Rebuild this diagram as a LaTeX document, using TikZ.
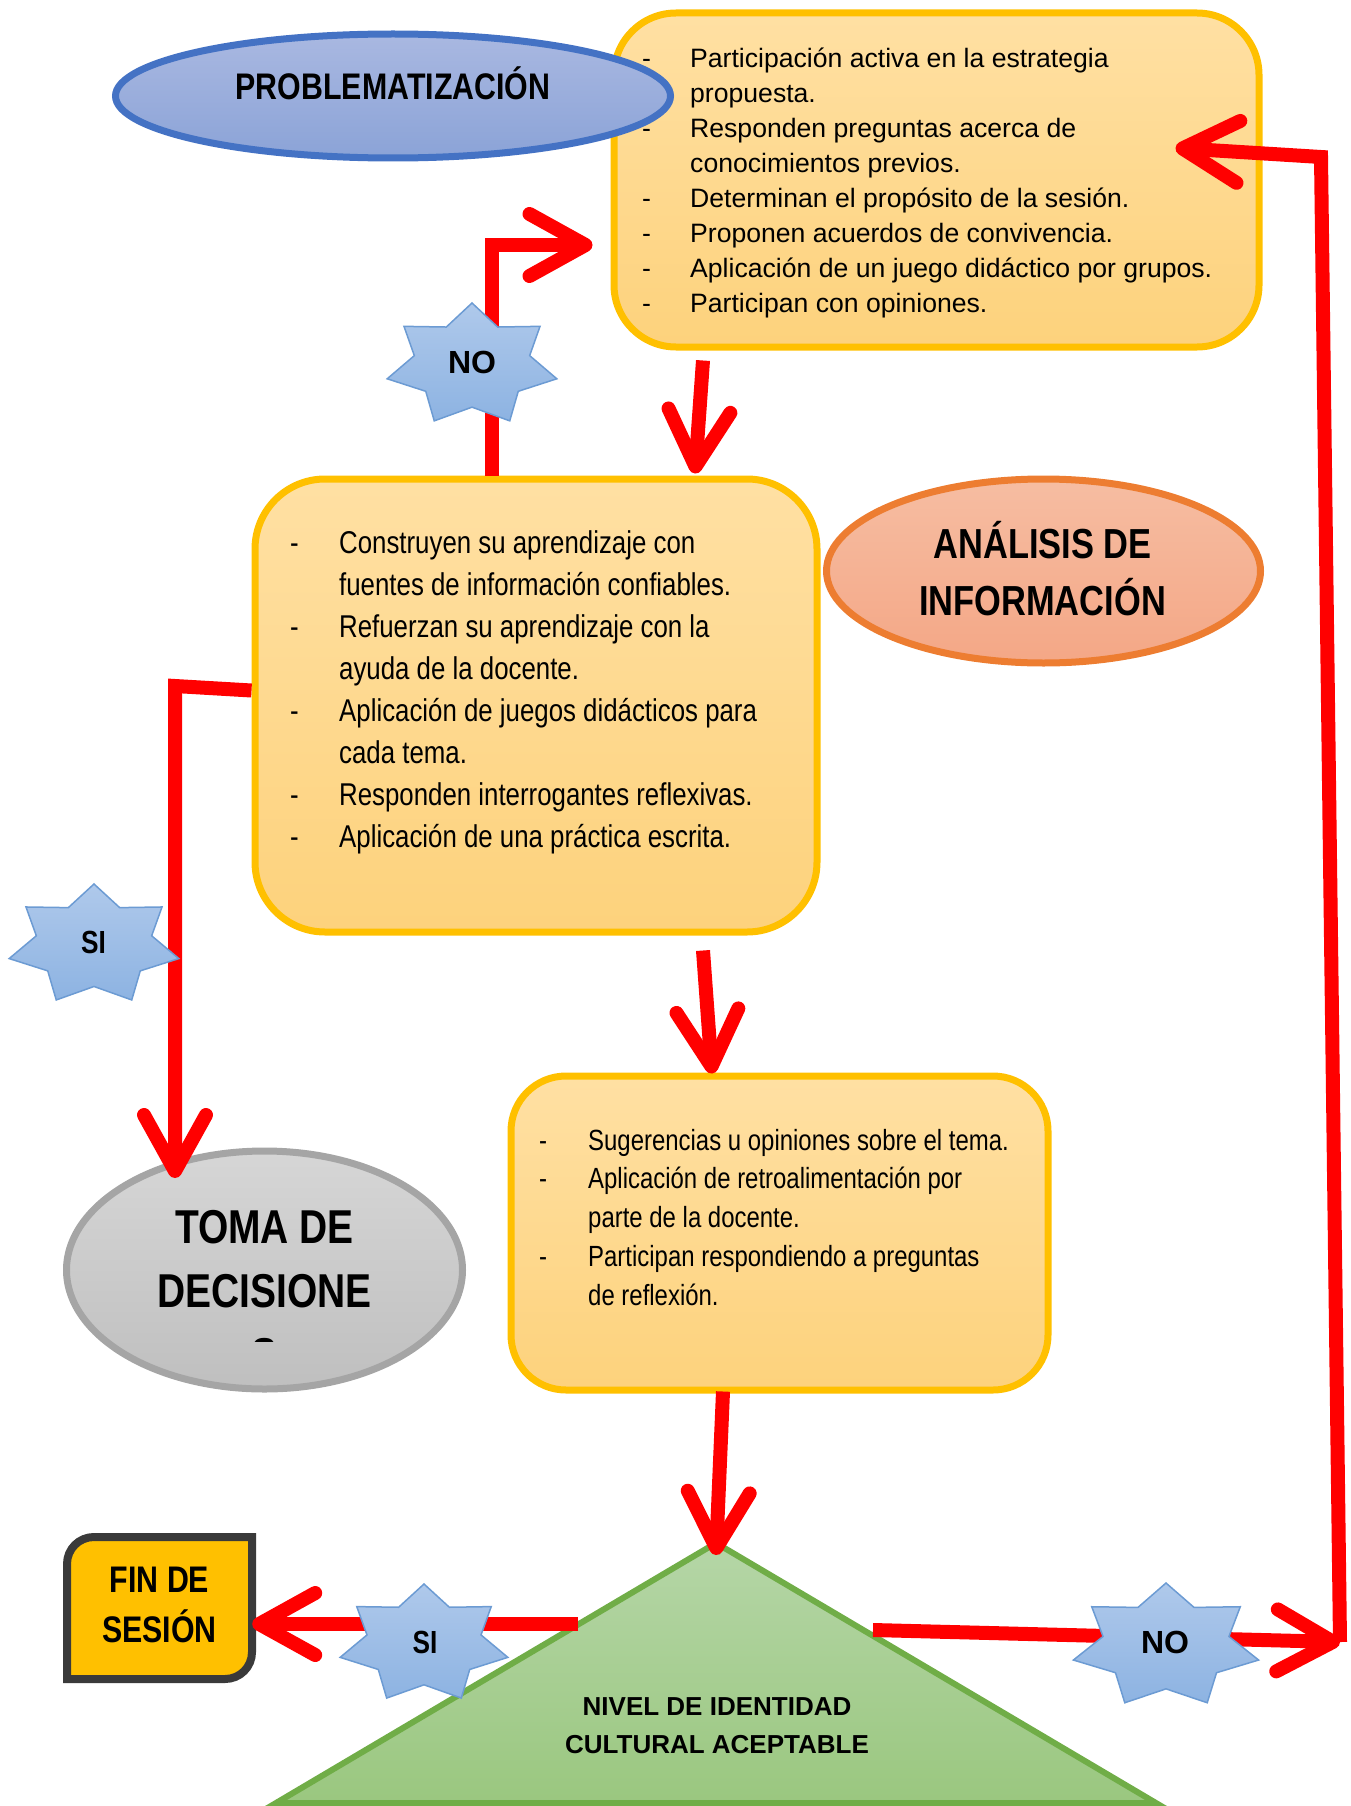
\documentclass[tikz,border=0pt]{standalone}
\usepackage{fontspec}
\setmainfont{Liberation Sans}
\newfontfamily\nar[FakeStretch=0.82]{Liberation Sans}
\usetikzlibrary{shapes.geometric,arrows.meta}
\definecolor{boxfillA}{HTML}{FFE0A3}
\definecolor{boxfillB}{HTML}{FDD27C}
\definecolor{boxline}{HTML}{FFC000}
\definecolor{probA}{HTML}{A9B8E1}
\definecolor{probB}{HTML}{8BA3D7}
\definecolor{probline}{HTML}{4472C4}
\definecolor{anaA}{HTML}{F6BDA2}
\definecolor{anaB}{HTML}{F4A786}
\definecolor{analine}{HTML}{ED7D31}
\definecolor{tomaA}{HTML}{D6D6D6}
\definecolor{tomaB}{HTML}{BFBFBF}
\definecolor{tomaline}{HTML}{A5A5A5}
\definecolor{triA}{HTML}{B5D6A7}
\definecolor{triB}{HTML}{9AC77F}
\definecolor{triline}{HTML}{70AD47}
\definecolor{starA}{HTML}{AFC9EB}
\definecolor{starB}{HTML}{8DB3E2}
\definecolor{starline}{HTML}{6C9BD3}
\definecolor{finfill}{HTML}{FFC000}
\definecolor{finline}{HTML}{3A3A3A}
\definecolor{arrowred}{HTML}{FF0000}
\newcommand\litem[2]{\hangindent=#1\hangafter=1\noindent\makebox[#1][l]{-}#2\par}
\newcommand\ctext[2]{\vtop{\hsize=#1\parindent=0pt\parskip=0pt\centering #2\par}}
\newcommand\ltext[2]{\vtop{\hsize=#1\parindent=0pt\parskip=0pt #2}}
\newcommand\sevenstar[4]{%
  \path[starshape] plot[variable=\k, samples at={0,...,13}]
   ({#1+#3*(1-0.32*mod(\k,2))*cos(90+\k*25.7143)},
    {#2-#4*(1-0.32*mod(\k,2))*sin(90+\k*25.7143)}) -- cycle;}
\begin{document}
\begin{tikzpicture}[x=1pt,y=-1pt,
  ybox/.style={rectangle, draw=boxline, line width=7pt, top color=boxfillA, bottom color=boxfillB, inner sep=0pt},
  oval/.style={ellipse, line width=7pt, inner sep=0pt},
  arr/.style={draw=arrowred, line width=14pt, line join=miter, -{Straight Barb[length=56pt,width=62pt,round]}},
  starshape/.style={draw=starline, line width=1.5pt, top color=starA, bottom color=starB},
  lbl/.style={anchor=base, inner sep=0pt, font=\bfseries\fontsize{32}{36}\selectfont},
  lbln/.style={anchor=base, inner sep=0pt, font=\nar\bfseries\fontsize{32}{36}\selectfont},
  txt/.style={anchor=base, inner sep=0pt},
  ltxt/.style={anchor=base west, inner sep=0pt}]
\useasboundingbox (0,0) rectangle (1350,1806);

% boxes
\node[ybox, rounded corners=62pt, minimum width=645pt, minimum height=334pt] (top) at (936.5,180) {};
\node[ybox, rounded corners=70pt, minimum width=562pt, minimum height=453pt] (mid) at (536,705.5) {};
\node[ybox, rounded corners=55pt, minimum width=537pt, minimum height=314pt] (low) at (779.5,1233) {};

% ovals
\node[oval, draw=probline, top color=probA, bottom color=probB, minimum width=555pt, minimum height=124pt] (prob) at (393,96) {};
\node[oval, draw=analine, top color=anaA, bottom color=anaB, minimum width=434pt, minimum height=184pt] (anal) at (1043.5,571) {};
\node[oval, draw=tomaline, top color=tomaA, bottom color=tomaB, minimum width=396pt, minimum height=238pt] (toma) at (264.5,1270) {};

% triangle
\coordinate (apex) at (716,1543);
\coordinate (baseL) at (276,1803);
\coordinate (baseR) at (1156,1803);
\path[draw=triline, line width=6pt, top color=triA, bottom color=triB] (apex) -- (baseR) -- (baseL) -- cycle;

% fin de sesion box
\node[minimum width=185pt, minimum height=142pt, inner sep=0pt] (fin) at (159.5,1608) {};
\path[draw=finline, line width=8pt, fill=finfill] (67,1679) -- (67,1564) .. controls (67,1549) and (79,1537) .. (94,1537) -- (252,1537) -- (252,1652) .. controls (252,1667) and (240,1679) .. (225,1679) -- cycle;

% texts
\node[ltxt, font=\fontsize{26.6}{35}\selectfont] (toptxt) at (642,68) {\ltext{640pt}{%
\litem{48pt}{Participación activa en la estrategia\newline propuesta.}%
\litem{48pt}{Responden preguntas acerca de\newline conocimientos previos.}%
\litem{48pt}{Determinan el propósito de la sesión.}%
\litem{48pt}{Proponen acuerdos de convivencia.}%
\litem{48pt}{Aplicación de un juego didáctico por grupos.}%
\litem{48pt}{Participan con opiniones.}}};
\node[ltxt, font=\nar\fontsize{31.5}{42.1}\selectfont] (midtxt) at (290,553) {\ltext{560pt}{%
\litem{49pt}{Construyen su aprendizaje con\newline fuentes de información confiables.}%
\litem{49pt}{Refuerzan su aprendizaje con la\newline ayuda de la docente.}%
\litem{49pt}{Aplicación de juegos didácticos para\newline cada tema.}%
\litem{49pt}{Responden interrogantes reflexivas.}%
\litem{49pt}{Aplicación de una práctica escrita.}}};
\node[ltxt, font=\nar\fontsize{29.2}{38.8}\selectfont] (lowtxt) at (539,1150) {\ltext{520pt}{%
\litem{49pt}{Sugerencias u opiniones sobre el tema.}%
\litem{49pt}{Aplicación de retroalimentación por\newline parte de la docente.}%
\litem{49pt}{Participan respondiendo a preguntas\newline de reflexión.}}};
\node[txt, font=\nar\bfseries\fontsize{37}{44}\selectfont] (probtxt) at (393,100) {PROBLEMATIZACIÓN};
\node[txt, font=\nar\bfseries\fontsize{42}{57}\selectfont] (analtxt) at (1042.5,558) {\ctext{400pt}{ANÁLISIS DE\\INFORMACIÓN}};
\begin{scope}
\clip (0,0) rectangle (1350,1341);
\node[txt, font=\nar\bfseries\fontsize{47.5}{64}\selectfont] (tomatxt) at (264.5,1243) {\ctext{300pt}{TOMA DE\\DECISIONE\\S}};
\end{scope}
\node[txt, font=\nar\bfseries\fontsize{37}{50}\selectfont] (fintxt) at (159.5,1592) {\ctext{200pt}{FIN DE\\SESIÓN}};
\node[txt, font=\bfseries\fontsize{26}{38}\selectfont] (nivtxt) at (717,1715) {\ctext{500pt}{NIVEL DE IDENTIDAD\\CULTURAL ACEPTABLE}};

% connectors
\coordinate (c3) at (175,686);
\coordinate (c6) at (578,1624);
\coordinate (c7) at (873,1630);
\coordinate (c8) at (1340,1642);
\coordinate (c9) at (1321,157);
\draw[arr] ([shift={(-233.5,10)}]top.south) -- ([shift={(159,-2)}]mid.north);
\draw[arr] ([xshift=-44pt]mid.north) |- ([shift={(-18,65)}]top.west);
\draw[arr] ([shift={(0,-15)}]mid.west) -- (c3) -- ([shift={(-89.5,-92)}]toma.center);
\draw[arr] ([shift={(167,15)}]mid.south) -- ([shift={(-67.5,1)}]low.north);
\draw[arr] ([shift={(-56.5,-2)}]low.south) -- ([shift={(0,12)}]apex);
\draw[arr] (c6) -- ([shift={(0,16)}]fin.east);
\draw[arr] (c7) -- (c8);
\draw[arr] (c8) -- (c9) -- ([shift={(-87,-32)}]top.east);

% stars with labels
\sevenstar{472}{365}{87}{62}
\node[lbl] (no1) at (472,373) {NO};
\sevenstar{94}{945}{87}{61}
\node[lbln] (si1) at (93.5,953) {SI};
\sevenstar{424}{1644}{86}{60}
\node[lbln] (si2) at (425,1653) {SI};
\sevenstar{1166}{1646}{95}{63}
\node[lbl] (no2) at (1165,1653) {NO};
\end{tikzpicture}
\end{document}
